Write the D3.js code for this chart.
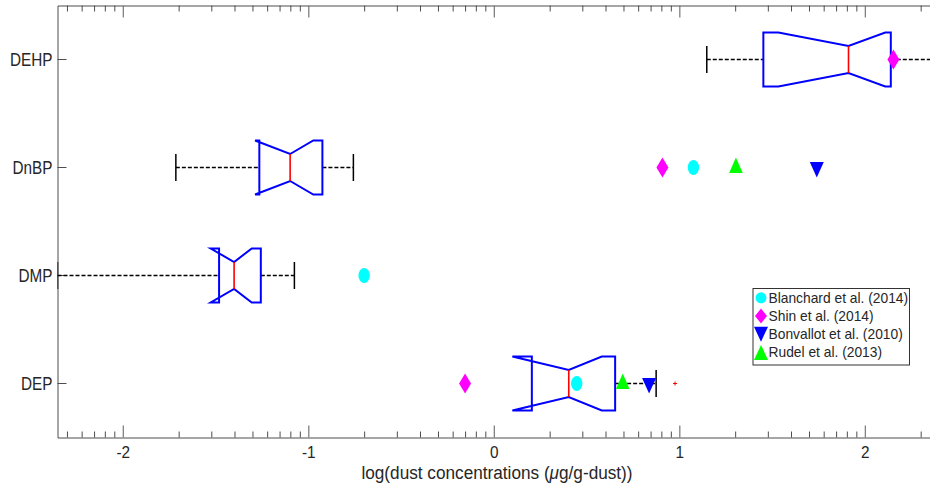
<!DOCTYPE html>
<html>
<head>
<meta charset="utf-8">
<script src="https://cdn.jsdelivr.net/npm/d3@7"></script>
<style>
  html, body { margin: 0; padding: 0; background: #fff; }
  svg { display: block; }
  text { font-family: "Liberation Sans", Arial, Helvetica, sans-serif; fill: #262626; }
</style>
</head>
<body>
<svg id="chart" width="930" height="488"></svg>
<script>
// Phthalate dust concentrations, log10(µg/g-dust), notched box summaries
const categories  = ["DEHP", "DnBP", "DMP", "DEP"];
const whiskerLow  = [1.148, -1.714, -2.352, 0.205];
const q1          = [1.453, -1.264, -1.481, 0.205];
const notchLow    = [1.534, -1.287, -1.526, 0.100];
const medians     = [1.912, -1.098, -1.400, 0.404];
const notchHigh   = [2.110, -0.973, -1.305, 0.582];
const q3          = [2.140, -0.924, -1.256, 0.654];
const whiskerHigh = [2.450, -0.757, -1.075, 0.875];

// outliers flagged by the box plot
const outlierCats   = ["DEP"];
const outlierValues = [0.977];

// values reported in earlier studies
const studies = ["Blanchard et al. (2014)", "Shin et al. (2014)", "Bonvallot et al. (2010)", "Rudel et al. (2013)"];
const blanchardCats = ["DnBP", "DMP", "DEP"];
const blanchardVals = [1.076, -0.699, 0.447];
const shinCats      = ["DEHP", "DnBP", "DEP"];
const shinVals      = [2.154, 0.909, -0.155];
const bonvallotCats = ["DnBP", "DEP"];
const bonvallotVals = [1.741, 0.837];
const rudelCats     = ["DnBP", "DEP"];
const rudelVals     = [1.305, 0.695];

// axis
const xDomain     = [-2.352, 2.354];
const majorTicks  = [-2, -1, 0, 1, 2];
const decades     = [-3, -2, -1, 0, 1, 2];
const minorSteps  = [2, 3, 4, 5, 6, 7, 8, 9];
const xLabel      = "log(dust concentrations (";
const xLabelUnit  = "μ";
const xLabelTail  = "g/g-dust))";

const svg = d3.select("#chart");
const pL = 57.5, pR = 930.5, pT = 5.5, pB = 437.5;

const x = d3.scaleLinear().domain(xDomain).range([pL, pR]);
const y = d3.scaleBand().domain(categories).range([pT, pB]).padding(0);
const bw = y.bandwidth();
const cy = c => y(c) + bw / 2;
const boxH = bw * 0.25, notchH = bw * 0.125;

const minorTicks = [];
decades.forEach(d => minorSteps.forEach(k => {
  const v = d + Math.log10(k);
  if (v > xDomain[0] && v < xDomain[1]) minorTicks.push(v);
}));

svg.append("defs").append("clipPath").attr("id", "plotclip")
  .append("rect").attr("x", pL).attr("y", pT).attr("width", pR - pL).attr("height", pB - pT);

// horizontal compression of glyphs
function narrow(sel, f) {
  sel.each(function () {
    const len = this.getComputedTextLength();
    d3.select(this).attr("textLength", len * f).attr("lengthAdjust", "spacingAndGlyphs");
  });
}

const axisColor = "#4d4d4d";

// bottom axis: major + minor ticks, pointing inward
const gx = svg.append("g").attr("transform", `translate(0,${pB})`)
  .call(d3.axisBottom(x).tickValues(majorTicks).tickSizeInner(-12).tickSizeOuter(0).tickPadding(8)
    .tickFormat(d => String(d)));
gx.select(".domain").attr("stroke", axisColor);
gx.selectAll(".tick line").attr("stroke", "#777").attr("stroke-width", 1.2);
gx.selectAll(".tick text").attr("font-size", 17).style("font-family", "Liberation Sans, Arial, sans-serif").attr("fill", "#262626");
narrow(gx.selectAll(".tick text"), 0.9);

const gxm = svg.append("g").attr("transform", `translate(0,${pB})`)
  .call(d3.axisBottom(x).tickValues(minorTicks).tickSizeInner(-6).tickSizeOuter(0).tickFormat(""));
gxm.select(".domain").remove();
gxm.selectAll(".tick line").attr("stroke", axisColor);

// top border with mirrored ticks
const gt = svg.append("g").attr("transform", `translate(0,${pT})`)
  .call(d3.axisTop(x).tickValues(majorTicks).tickSizeInner(-12).tickSizeOuter(0).tickFormat(""));
gt.select(".domain").attr("stroke", axisColor);
gt.selectAll(".tick line").attr("stroke", "#777").attr("stroke-width", 1.2);
const gtm = svg.append("g").attr("transform", `translate(0,${pT})`)
  .call(d3.axisTop(x).tickValues(minorTicks).tickSizeInner(-6).tickSizeOuter(0).tickFormat(""));
gtm.select(".domain").remove();
gtm.selectAll(".tick line").attr("stroke", axisColor);

// left axis with category names
const gy = svg.append("g").attr("transform", `translate(${pL},0)`)
  .call(d3.axisLeft(y).tickSizeInner(-9).tickSizeOuter(0).tickPadding(5));
gy.select(".domain").attr("stroke", axisColor);
gy.selectAll(".tick line").attr("stroke", axisColor);
gy.selectAll(".tick text").attr("font-size", 18).attr("dy", "0.38em")
  .style("font-family", "Liberation Sans, Arial, sans-serif").attr("fill", "#262626");
narrow(gy.selectAll(".tick text"), 0.85);

// right border
svg.append("line").attr("x1", pR).attr("x2", pR).attr("y1", pT).attr("y2", pB).attr("stroke", axisColor);

// x label, horizontally condensed
const lbl = svg.append("g").attr("transform", "translate(497,479) scale(0.905,1)")
  .append("text").attr("x", 0).attr("y", 0)
  .attr("text-anchor", "middle").attr("font-size", 19);
lbl.append("tspan").text(xLabel);
lbl.append("tspan").attr("font-style", "italic").text(xLabelUnit);
lbl.append("tspan").text(xLabelTail);

// boxes
const plot = svg.append("g").attr("clip-path", "url(#plotclip)");
const boxes = categories.map((c, i) => ({
  c, wl: whiskerLow[i], q1: q1[i], nl: notchLow[i], med: medians[i], nh: notchHigh[i], q3: q3[i], wh: whiskerHigh[i]
}));

boxes.forEach(b => {
  const yc = cy(b.c);
  const g = plot.append("g");
  // whiskers
  const segs = [];
  if (b.wl < b.q1) segs.push([b.wl, b.q1]);
  if (b.wh > b.q3) segs.push([b.q3, b.wh]);
  segs.forEach(([a, e]) => {
    g.append("line").attr("x1", x(a)).attr("x2", x(e)).attr("y1", yc).attr("y2", yc)
      .attr("stroke", "#000").attr("stroke-width", 1.3).attr("stroke-dasharray", "4,2");
  });
  // caps
  if (b.wl < b.q1) g.append("line").attr("x1", x(b.wl)).attr("x2", x(b.wl))
    .attr("y1", yc - notchH).attr("y2", yc + notchH).attr("stroke", "#000").attr("stroke-width", 1.5);
  if (b.wh > b.q3) g.append("line").attr("x1", x(b.wh)).attr("x2", x(b.wh))
    .attr("y1", yc - notchH).attr("y2", yc + notchH).attr("stroke", "#000").attr("stroke-width", 1.5);
  // notched outline
  const pts = [
    [b.q1, -boxH], [b.nl, -boxH], [b.med, -notchH], [b.nh, -boxH], [b.q3, -boxH],
    [b.q3, boxH], [b.nh, boxH], [b.med, notchH], [b.nl, boxH], [b.q1, boxH]
  ];
  g.append("path").attr("d", d3.line().x(p => x(p[0])).y(p => yc + p[1])(pts) + "Z")
    .attr("fill", "none").attr("stroke", "#0000ff").attr("stroke-width", 2).attr("stroke-linejoin", "miter");
  // median
  g.append("line").attr("x1", x(b.med)).attr("x2", x(b.med)).attr("y1", yc - notchH).attr("y2", yc + notchH)
    .attr("stroke", "#ff0000").attr("stroke-width", 1.6);
});

// outliers
outlierCats.forEach((c, i) => {
  const px = x(outlierValues[i]), py = cy(c);
  plot.append("path").attr("d", `M${px - 2},${py}H${px + 2}M${px},${py - 2}V${py + 2}`)
    .attr("stroke", "#ff0000").attr("stroke-width", 1);
});

// marker shapes
const shapes = {
  circle:  (w, h) => `M${-w},0A${w},${h} 0 1,0 ${w},0A${w},${h} 0 1,0 ${-w},0Z`,
  diamond: (w, h) => `M0,${-h}L${w},0L0,${h}L${-w},0Z`,
  triDown: (w, h, t, b) => `M${-w},${-t}L${w},${-t}L0,${b}Z`,
  triUp:   (w, h, t, b) => `M0,${-t}L${w},${b}L${-w},${b}Z`
};

const seriesDefs = [
  { cats: blanchardCats, vals: blanchardVals, color: "#00ffff", shape: "circle",  dims: [5.7, 7.5] },
  { cats: shinCats,      vals: shinVals,      color: "#ff00ff", shape: "diamond", dims: [6, 10] },
  { cats: bonvallotCats, vals: bonvallotVals, color: "#0000ff", shape: "triDown", dims: [7, 0, 5.4, 10] },
  { cats: rudelCats,     vals: rudelVals,     color: "#00ff00", shape: "triUp",   dims: [6.8, 0, 10, 5.4] }
];

const markers = svg.append("g").attr("clip-path", "url(#plotclip)");
seriesDefs.forEach(s => {
  s.cats.forEach((c, i) => {
    markers.append("path")
      .attr("transform", `translate(${x(s.vals[i])},${cy(c)})`)
      .attr("d", shapes[s.shape](...s.dims))
      .attr("fill", s.color);
  });
});

// legend
const lg = svg.append("g").attr("transform", "translate(753,288.5)");
lg.append("rect").attr("width", 156.5).attr("height", 76.5).attr("fill", "#fff")
  .attr("stroke", "#333").attr("stroke-width", 1);
const legendDims = [[5.5, 5.5], [6, 7.5], [7, 0, 7.5, 7.5], [7, 0, 7.5, 7.5]];
studies.forEach((name, i) => {
  const base = 14.3 + i * 18.2;
  lg.append("path").attr("transform", `translate(8,${base - 5})`)
    .attr("d", shapes[seriesDefs[i].shape](...legendDims[i])).attr("fill", seriesDefs[i].color);
  const t = lg.append("text").attr("x", 15.5).attr("y", base).attr("font-size", 15).text(name);
  narrow(t, 0.92);
});
</script>
</body>
</html>
